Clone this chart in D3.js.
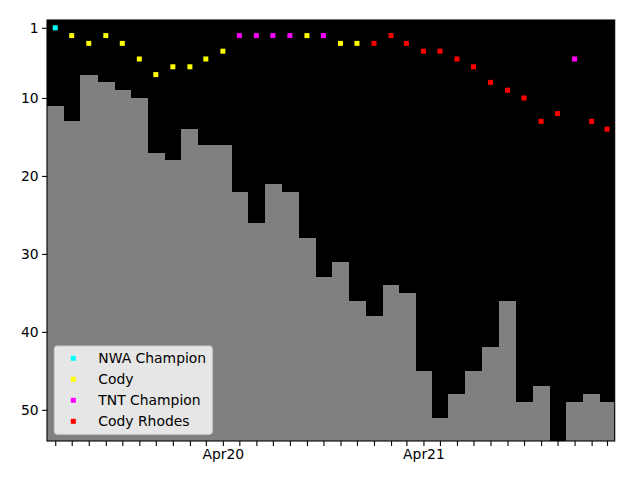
<!DOCTYPE html>
<html>
<head>
<meta charset="utf-8">
<script src="https://cdn.jsdelivr.net/npm/d3@7"></script>
<style>
  html, body { margin: 0; padding: 0; background: #ffffff; }
  svg { display: block; font-family: "DejaVu Sans", sans-serif; }
</style>
</head>
<body>
<svg id="chart" width="640" height="480"></svg>
<script>
// ---- Data ----
const months = ["2019-06","2019-07","2019-08","2019-09","2019-10","2019-11","2019-12",
  "2020-01","2020-02","2020-03","2020-04","2020-05","2020-06","2020-07","2020-08","2020-09",
  "2020-10","2020-11","2020-12","2021-01","2021-02","2021-03","2021-04","2021-05","2021-06",
  "2021-07","2021-08","2021-09","2021-10","2021-11","2021-12","2022-01","2022-02","2022-03"];
const barRanks = [11,13,7,8,9,10,17,18,14,16,16,22,26,21,22,28,33,31,36,38,34,35,45,51,48,45,42,36,49,47,null,49,48,49];

const nwaChampionMonths = ["2019-06"];
const nwaChampionRanks  = [1];
const codyMonths = ["2019-07","2019-08","2019-09","2019-10","2019-11","2019-12","2020-01","2020-02","2020-03","2020-04","2020-09","2020-11","2020-12"];
const codyRanks  = [2,3,2,3,5,7,6,6,5,4,2,3,3];
const tntChampionMonths = ["2020-05","2020-06","2020-07","2020-08","2020-10","2022-01"];
const tntChampionRanks  = [2,2,2,2,2,5];
const codyRhodesMonths = ["2021-01","2021-02","2021-03","2021-04","2021-05","2021-06","2021-07","2021-08","2021-09","2021-10","2021-11","2021-12","2022-02","2022-03"];
const codyRhodesRanks  = [3,2,3,4,4,5,6,8,9,10,13,12,13,14];

const seriesNames  = ["NWA Champion","Cody","TNT Champion","Cody Rhodes"];
const seriesColors = ["#00ffff","#ffff00","#ff00ff","#ff0000"];
const yTicks = [1,10,20,30,40,50];

// ---- Layout ----
const mLeft = 47, mRight = 614.7, mTop = 20, mBottom = 441;
const parse = d3.timeParse("%Y-%m");
const dates = months.map(parse);

// bar edges: midpoints between consecutive months
const edges = [];
for (let i = 0; i <= dates.length; i++) {
  if (i === 0) edges.push(new Date(+dates[0] - (dates[1] - dates[0]) / 2));
  else if (i === dates.length) edges.push(new Date(+dates[i-1] + (dates[i-1] - dates[i-2]) / 2));
  else edges.push(new Date((+dates[i-1] + +dates[i]) / 2));
}

const x = d3.scaleTime().domain([edges[0], edges[edges.length-1]]).range([mLeft, mRight]);
const y = d3.scaleLinear().domain([0, 54]).range([mTop, mBottom]);

const svg = d3.select("#chart");

// plot background
svg.append("rect").attr("x", mLeft).attr("y", mTop)
  .attr("width", mRight - mLeft).attr("height", mBottom - mTop).attr("fill", "#000");

// bars
svg.append("g").attr("shape-rendering", "crispEdges").selectAll("rect")
  .data(barRanks.map((r, i) => ({r, i})).filter(d => d.r != null))
  .join("rect")
  .attr("x", d => x(edges[d.i]))
  .attr("width", d => x(edges[d.i+1]) - x(edges[d.i]) + (d.i < barRanks.length - 1 ? 0.6 : 0))
  .attr("y", d => y(d.r))
  .attr("height", d => y(54) - y(d.r))
  .attr("fill", "#808080");

// scatter points
const seriesData = [
  [nwaChampionMonths, nwaChampionRanks],
  [codyMonths, codyRanks],
  [tntChampionMonths, tntChampionRanks],
  [codyRhodesMonths, codyRhodesRanks]
];
const ms = 5;
seriesData.forEach(([mArr, rArr], k) => {
  svg.append("g").selectAll("rect")
    .data(mArr.map((m, i) => ({d: parse(m), r: rArr[i]})))
    .join("rect")
    .attr("x", d => x(d.d) - ms/2)
    .attr("y", d => y(d.r) - ms/2)
    .attr("width", ms).attr("height", ms)
    .attr("fill", seriesColors[k]);
});

// axes
const tickLen = 4.9;
const yAxis = d3.axisLeft(y).tickValues(yTicks).tickSize(tickLen).tickPadding(3.5);
const gy = svg.append("g").attr("transform", `translate(${mLeft},0)`).call(yAxis);
gy.select(".domain").remove();
gy.selectAll("text").attr("font-size", 13.9).attr("fill", "#000").attr("font-family", "DejaVu Sans");
gy.selectAll("line").attr("stroke", "#000").attr("stroke-width", 1.1);

const fmt = d3.timeFormat("%b%y");
const xAxis = d3.axisBottom(x).tickValues(dates)
  .tickFormat(d => d.getMonth() === 3 ? fmt(d) : "")
  .tickSize(tickLen).tickPadding(3.5);
const gx = svg.append("g").attr("transform", `translate(0,${mBottom})`).call(xAxis);
gx.select(".domain").remove();
gx.selectAll("text").attr("font-size", 13.9).attr("fill", "#000").attr("font-family", "DejaVu Sans");
gx.selectAll("line").attr("stroke", "#000").attr("stroke-width", 1.1);

// frame
svg.append("rect").attr("x", mLeft).attr("y", mTop)
  .attr("width", mRight - mLeft).attr("height", mBottom - mTop)
  .attr("fill", "none").attr("stroke", "#000").attr("stroke-width", 1.1);

// legend
const lg = svg.append("g");
lg.append("rect").attr("x", 54.3).attr("y", 346).attr("width", 158).attr("height", 88.3)
  .attr("rx", 2.8).attr("fill", "#ffffff").attr("fill-opacity", 0.8)
  .attr("stroke", "#cccccc").attr("stroke-width", 1);
seriesNames.forEach((name, i) => {
  const cy = 358.3 + 21 * i;
  lg.append("rect").attr("x", 73.3 - ms/2).attr("y", cy - ms/2)
    .attr("width", ms).attr("height", ms).attr("fill", seriesColors[i]);
  lg.append("text").attr("x", 98.3).attr("y", cy + 5)
    .attr("font-size", 13.9).attr("fill", "#000").text(name);
});
</script>
</body>
</html>
